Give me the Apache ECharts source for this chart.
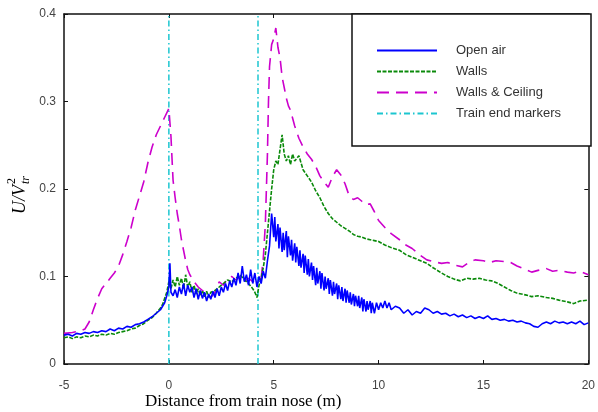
<!DOCTYPE html>
<html>
<head>
<meta charset="utf-8">
<script src="https://cdn.jsdelivr.net/npm/echarts@6/dist/echarts.min.js"></script>
<style>
  html, body { margin: 0; padding: 0; background: #fff; }
  #chart { width: 598px; height: 412px; }
</style>
</head>
<body>
<div id="chart"></div>
<script>
// [distance from train nose (m), U/Vtr^2]
const openAir = [
  [-5.0, 0.033], [-4.8, 0.034], [-4.6, 0.032], [-4.4, 0.035], [-4.2, 0.034], [-4.0, 0.036],
  [-3.8, 0.035], [-3.6, 0.037], [-3.4, 0.036], [-3.2, 0.038], [-3.0, 0.037], [-2.8, 0.040],
  [-2.6, 0.038], [-2.4, 0.041], [-2.2, 0.040], [-2.0, 0.043], [-1.8, 0.042], [-1.6, 0.045],
  [-1.4, 0.046], [-1.2, 0.048], [-1.0, 0.051], [-0.8, 0.054], [-0.6, 0.058], [-0.4, 0.062],
  [-0.3, 0.066], [-0.2, 0.070], [-0.1, 0.078], [0.0, 0.088], [0.05, 0.115], [0.1, 0.082],
  [0.2, 0.078], [0.3, 0.085], [0.4, 0.076], [0.5, 0.088], [0.6, 0.080], [0.7, 0.092],
  [0.8, 0.078], [0.9, 0.090], [1.0, 0.082], [1.1, 0.088], [1.2, 0.076], [1.3, 0.086],
  [1.4, 0.074], [1.5, 0.084], [1.6, 0.075], [1.7, 0.082], [1.8, 0.072], [1.9, 0.080],
  [2.0, 0.074], [2.1, 0.083], [2.2, 0.076], [2.3, 0.086], [2.4, 0.078], [2.5, 0.088],
  [2.6, 0.082], [2.7, 0.092], [2.8, 0.084], [2.9, 0.095], [3.0, 0.088], [3.1, 0.098],
  [3.2, 0.090], [3.3, 0.104], [3.4, 0.092], [3.5, 0.112], [3.6, 0.094], [3.7, 0.102],
  [3.8, 0.090], [3.9, 0.108], [4.0, 0.092], [4.1, 0.104], [4.2, 0.088], [4.3, 0.100],
  [4.4, 0.092], [4.5, 0.106], [4.6, 0.098], [4.7, 0.118], [4.8, 0.135], [4.9, 0.172],
  [5.0, 0.145], [5.05, 0.168], [5.1, 0.140], [5.2, 0.160], [5.25, 0.132], [5.3, 0.156],
  [5.4, 0.128], [5.45, 0.150], [5.5, 0.130], [5.6, 0.152], [5.65, 0.122], [5.7, 0.146],
  [5.8, 0.124], [5.85, 0.142], [5.9, 0.118], [6.0, 0.138], [6.05, 0.116], [6.1, 0.134],
  [6.2, 0.112], [6.25, 0.130], [6.3, 0.110], [6.4, 0.126], [6.45, 0.104], [6.5, 0.124],
  [6.6, 0.102], [6.65, 0.120], [6.7, 0.100], [6.8, 0.116], [6.85, 0.096], [6.9, 0.112],
  [7.0, 0.090], [7.05, 0.110], [7.1, 0.092], [7.2, 0.106], [7.25, 0.086], [7.3, 0.104],
  [7.4, 0.084], [7.45, 0.100], [7.5, 0.086], [7.6, 0.098], [7.65, 0.080], [7.7, 0.096],
  [7.8, 0.078], [7.85, 0.094], [7.9, 0.080], [8.0, 0.092], [8.05, 0.074], [8.1, 0.090],
  [8.2, 0.074], [8.25, 0.088], [8.3, 0.072], [8.4, 0.086], [8.45, 0.070], [8.5, 0.084],
  [8.6, 0.070], [8.65, 0.082], [8.7, 0.068], [8.8, 0.080], [8.85, 0.066], [8.9, 0.078],
  [9.0, 0.066], [9.05, 0.078], [9.1, 0.064], [9.2, 0.076], [9.25, 0.060], [9.3, 0.074],
  [9.4, 0.060], [9.45, 0.072], [9.5, 0.062], [9.6, 0.072], [9.65, 0.058], [9.7, 0.070],
  [9.8, 0.058], [9.9, 0.070], [10.0, 0.062], [10.1, 0.070], [10.2, 0.064], [10.3, 0.072],
  [10.4, 0.064], [10.5, 0.070], [10.6, 0.062], [10.8, 0.066], [11.0, 0.064], [11.2, 0.058],
  [11.4, 0.062], [11.6, 0.056], [11.8, 0.060], [12.0, 0.058], [12.2, 0.064], [12.4, 0.062],
  [12.6, 0.058], [12.8, 0.060], [13.0, 0.057], [13.2, 0.058], [13.4, 0.055], [13.6, 0.057],
  [13.8, 0.054], [14.0, 0.056], [14.2, 0.053], [14.4, 0.055], [14.6, 0.052], [14.8, 0.054],
  [15.0, 0.052], [15.2, 0.055], [15.4, 0.051], [15.6, 0.052], [15.8, 0.050], [16.0, 0.051],
  [16.2, 0.049], [16.4, 0.050], [16.6, 0.048], [16.8, 0.049], [17.0, 0.047], [17.2, 0.046],
  [17.4, 0.043], [17.6, 0.042], [17.8, 0.046], [18.0, 0.048], [18.2, 0.046], [18.4, 0.049],
  [18.6, 0.047], [18.8, 0.048], [19.0, 0.046], [19.2, 0.048], [19.4, 0.046], [19.6, 0.049],
  [19.8, 0.045], [20.0, 0.047]
];

const walls = [
  [-5.0, 0.030], [-4.8, 0.031], [-4.6, 0.029], [-4.4, 0.031], [-4.2, 0.030], [-4.0, 0.032],
  [-3.8, 0.031], [-3.6, 0.033], [-3.4, 0.032], [-3.2, 0.034], [-3.0, 0.033], [-2.8, 0.035],
  [-2.6, 0.034], [-2.4, 0.036], [-2.2, 0.037], [-2.0, 0.038], [-1.8, 0.040], [-1.6, 0.041],
  [-1.4, 0.044], [-1.2, 0.046], [-1.0, 0.050], [-0.8, 0.053], [-0.6, 0.058], [-0.4, 0.064],
  [-0.3, 0.068], [-0.2, 0.075], [-0.1, 0.082], [0.0, 0.094], [0.1, 0.086], [0.2, 0.096],
  [0.3, 0.088], [0.4, 0.100], [0.5, 0.090], [0.6, 0.098], [0.7, 0.086], [0.8, 0.102],
  [0.9, 0.088], [1.0, 0.094], [1.1, 0.082], [1.2, 0.090], [1.3, 0.080], [1.4, 0.086],
  [1.5, 0.078], [1.6, 0.084], [1.7, 0.077], [1.8, 0.083], [1.9, 0.076], [2.0, 0.082],
  [2.2, 0.084], [2.4, 0.088], [2.6, 0.092], [2.8, 0.096], [3.0, 0.094], [3.2, 0.098],
  [3.4, 0.102], [3.6, 0.096], [3.8, 0.092], [4.0, 0.086], [4.1, 0.082], [4.2, 0.076],
  [4.3, 0.090], [4.4, 0.098], [4.5, 0.110], [4.6, 0.125], [4.7, 0.150], [4.8, 0.175],
  [4.9, 0.200], [5.0, 0.222], [5.1, 0.232], [5.2, 0.228], [5.3, 0.245], [5.4, 0.262],
  [5.5, 0.240], [5.6, 0.232], [5.7, 0.238], [5.8, 0.228], [5.9, 0.240], [6.0, 0.232],
  [6.2, 0.238], [6.4, 0.222], [6.6, 0.215], [6.8, 0.208], [7.0, 0.198], [7.2, 0.190],
  [7.4, 0.180], [7.6, 0.172], [7.8, 0.166], [8.0, 0.162], [8.2, 0.158], [8.4, 0.155],
  [8.6, 0.152], [8.8, 0.148], [9.0, 0.146], [9.2, 0.145], [9.4, 0.143], [9.6, 0.142],
  [9.8, 0.141], [10.0, 0.140], [10.3, 0.136], [10.6, 0.133], [11.0, 0.130], [11.3, 0.125],
  [11.6, 0.122], [12.0, 0.118], [12.3, 0.115], [12.6, 0.110], [13.0, 0.104], [13.3, 0.100],
  [13.6, 0.097], [13.9, 0.095], [14.2, 0.098], [14.5, 0.097], [14.8, 0.098], [15.1, 0.096],
  [15.4, 0.095], [15.7, 0.092], [16.0, 0.088], [16.3, 0.084], [16.6, 0.081], [17.0, 0.079],
  [17.3, 0.077], [17.6, 0.078], [18.0, 0.076], [18.3, 0.075], [18.6, 0.073], [19.0, 0.071],
  [19.3, 0.069], [19.6, 0.072], [20.0, 0.073]
];

const wallsCeiling = [
  [-5.0, 0.035], [-4.6, 0.036], [-4.2, 0.038], [-4.0, 0.040], [-3.8, 0.048], [-3.6, 0.062],
  [-3.4, 0.075], [-3.2, 0.086], [-3.0, 0.092], [-2.8, 0.098], [-2.6, 0.104], [-2.4, 0.112],
  [-2.2, 0.125], [-2.0, 0.140], [-1.8, 0.156], [-1.6, 0.176], [-1.4, 0.192], [-1.2, 0.208],
  [-1.0, 0.230], [-0.8, 0.248], [-0.6, 0.262], [-0.4, 0.272], [-0.2, 0.282], [0.0, 0.292],
  [0.1, 0.260], [0.2, 0.210], [0.3, 0.190], [0.4, 0.172], [0.5, 0.158], [0.6, 0.142],
  [0.7, 0.130], [0.8, 0.118], [0.9, 0.108], [1.0, 0.102], [1.2, 0.094], [1.4, 0.088],
  [1.6, 0.084], [1.8, 0.080], [2.0, 0.076], [2.2, 0.082], [2.4, 0.094], [2.6, 0.090],
  [2.8, 0.098], [3.0, 0.100], [3.2, 0.096], [3.4, 0.100], [3.6, 0.094], [3.8, 0.098],
  [4.0, 0.094], [4.2, 0.096], [4.4, 0.098], [4.5, 0.120], [4.6, 0.160], [4.7, 0.240],
  [4.75, 0.300], [4.8, 0.340], [4.9, 0.365], [5.0, 0.372], [5.1, 0.384], [5.2, 0.362],
  [5.3, 0.350], [5.4, 0.328], [5.5, 0.316], [5.6, 0.304], [5.7, 0.295], [5.8, 0.290],
  [6.0, 0.272], [6.2, 0.258], [6.4, 0.248], [6.6, 0.240], [6.8, 0.234], [7.0, 0.226],
  [7.2, 0.215], [7.4, 0.208], [7.6, 0.202], [7.8, 0.214], [8.0, 0.222], [8.2, 0.216],
  [8.4, 0.206], [8.6, 0.192], [8.8, 0.188], [9.0, 0.190], [9.2, 0.186], [9.4, 0.182],
  [9.6, 0.183], [9.8, 0.174], [10.0, 0.164], [10.3, 0.156], [10.6, 0.149], [11.0, 0.142],
  [11.3, 0.136], [11.6, 0.132], [12.0, 0.124], [12.3, 0.119], [12.6, 0.117], [13.0, 0.115],
  [13.3, 0.116], [13.6, 0.113], [14.0, 0.111], [14.3, 0.116], [14.6, 0.119], [15.0, 0.118],
  [15.3, 0.116], [15.6, 0.118], [16.0, 0.117], [16.3, 0.116], [16.6, 0.112], [17.0, 0.108],
  [17.3, 0.105], [17.6, 0.107], [18.0, 0.109], [18.3, 0.106], [18.6, 0.107], [19.0, 0.105],
  [19.3, 0.104], [19.6, 0.106], [20.0, 0.102]
];

// train ends (m)
const trainEnds = [0, 4.25];
const xTicks = [-5, 0, 5, 10, 15, 20];
const yTicks = [0, 0.1, 0.2, 0.3, 0.4];

const chart = echarts.init(document.getElementById("chart"));

const frameLine = { show: true, onZero: false, lineStyle: { color: "#111", width: 1.5 } };
const inTick = { show: true, inside: true, length: 4, lineStyle: { color: "#111", width: 1 } };
const labelStyle = { color: "#444", fontSize: 12, fontFamily: "Liberation Sans, Arial, sans-serif" };

const markerSeries = trainEnds.map((x) => ({
  name: "Train end markers",
  type: "line",
  color: "#1cc6d0",
  showSymbol: false,
  symbol: "none",
  data: [[x, yTicks[0]], [x, yTicks[yTicks.length - 1]]],
  lineStyle: { color: "#1cc6d0", width: 1.5, type: [6, 3, 1.5, 3] },
  z: 1,
}));

const option = {
  animation: false,
  backgroundColor: "#fff",
  grid: { left: 64, top: 14, right: 7, bottom: 48 },
  xAxis: [
    {
      type: "value",
      min: xTicks[0],
      max: xTicks[xTicks.length - 1],
      interval: 5,
      axisLine: frameLine,
      axisTick: inTick,
      splitLine: { show: false },
      axisLabel: Object.assign({ margin: 16 }, labelStyle),
    },
    {
      type: "value",
      position: "top",
      min: xTicks[0],
      max: xTicks[xTicks.length - 1],
      interval: 5,
      axisLine: frameLine,
      axisTick: inTick,
      splitLine: { show: false },
      axisLabel: { show: false },
    },
  ],
  yAxis: [
    {
      type: "value",
      min: yTicks[0],
      max: yTicks[yTicks.length - 1],
      interval: 0.1,
      axisLine: frameLine,
      axisTick: inTick,
      splitLine: { show: false },
      axisLabel: Object.assign({ margin: 8 }, labelStyle),
    },
    {
      type: "value",
      position: "right",
      min: yTicks[0],
      max: yTicks[yTicks.length - 1],
      interval: 0.1,
      axisLine: frameLine,
      axisTick: inTick,
      splitLine: { show: false },
      axisLabel: { show: false },
    },
  ],
  legend: {
    orient: "vertical",
    left: 371,
    top: 39,
    itemWidth: 60,
    itemHeight: 14,
    itemGap: 8,
    itemStyle: { opacity: 0 },
    data: ["Open air", "Walls", "Walls & Ceiling", "Train end markers"],
    textStyle: {
      color: "#333",
      fontSize: 13,
      fontFamily: "Liberation Sans, Arial, sans-serif",
      padding: [0, 0, 0, 14],
    },
    z: 6,
  },
  graphic: [
    {
      type: "rect",
      z: 5,
      shape: { x: 352, y: 14, width: 239, height: 132 },
      style: { fill: "#fff", stroke: "#111", lineWidth: 1.5 },
    },
    {
      type: "text",
      left: 145,
      top: 393,
      style: {
        text: "Distance from train nose (m)",
        fill: "#000",
        font: "17px 'Liberation Serif', 'Times New Roman', serif",
      },
    },
    {
      type: "group",
      x: 20,
      y: 190,
      rotation: Math.PI / 2,
      children: [
        {
          type: "text",
          x: -24,
          y: 0,
          style: {
            text: "U/V",
            fill: "#000",
            font: "italic 18px 'Liberation Serif', 'Times New Roman', serif",
            verticalAlign: "middle",
          },
        },
        {
          type: "text",
          x: 6,
          y: -8,
          style: {
            text: "2",
            fill: "#000",
            font: "12px 'Liberation Serif', 'Times New Roman', serif",
            verticalAlign: "middle",
          },
        },
        {
          type: "text",
          x: 6,
          y: 6,
          style: {
            text: "tr",
            fill: "#000",
            font: "italic 12px 'Liberation Serif', 'Times New Roman', serif",
            verticalAlign: "middle",
          },
        },
      ],
    },
  ],
  series: [
    {
      name: "Open air",
      type: "line",
      color: "#0000ff",
      showSymbol: false,
      symbol: "none",
      data: openAir,
      lineStyle: { color: "#0000ff", width: 1.6 },
      z: 4,
    },
    {
      name: "Walls",
      type: "line",
      color: "#0a8a0a",
      showSymbol: false,
      symbol: "none",
      data: walls,
      lineStyle: { color: "#0a8a0a", width: 1.6, type: [4, 1.5] },
      z: 3,
    },
    {
      name: "Walls & Ceiling",
      type: "line",
      color: "#cc00cc",
      showSymbol: false,
      symbol: "none",
      data: wallsCeiling,
      lineStyle: { color: "#cc00cc", width: 1.6, type: [12, 7] },
      z: 2,
    },
  ].concat(markerSeries),
};

chart.setOption(option);
</script>
</body>
</html>
